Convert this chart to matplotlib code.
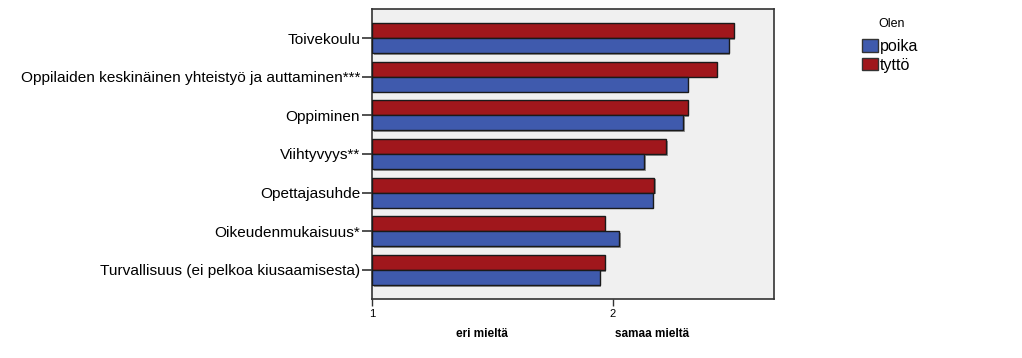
import matplotlib
matplotlib.use("Agg")
import matplotlib.pyplot as plt
import matplotlib.patheffects as pe
from matplotlib.patches import Patch
import numpy as np

plt.rcParams['font.family'] = ['Liberation Sans', 'DejaVu Sans']

categories = ["Toivekoulu",
              "Oppilaiden keskinäinen yhteistyö ja auttaminen***",
              "Oppiminen",
              "Viihtyvyys**",
              "Opettajasuhde",
              "Oikeudenmukaisuus*",
              "Turvallisuus (ei pelkoa kiusaamisesta)"]
tytto = [2.50, 2.43, 2.31, 2.22, 2.17, 1.965, 1.965]
poika = [2.48, 2.31, 2.29, 2.13, 2.165, 2.025, 1.945]
series_names = ["poika", "tyttö"]
legend_title = "Olen"
x_ticks = [1, 2]
bottom_labels = ["eri mieltä", "samaa mieltä"]

blue = "#3F5AAD"
red = "#A0171C"

fig = plt.figure(figsize=(10.22, 3.58), dpi=100)
ax = fig.add_axes([372/1022, 1-299/358, (774-372)/1022, (299-9)/358])
ax.set_facecolor("#F0F0F0")

y = np.arange(len(categories))
h = 0.39
shadow = [pe.SimplePatchShadow(offset=(1.2, -1.2), shadow_rgbFace="#808080", alpha=0.8), pe.Normal()]
ax.barh(y - h/2, np.array(tytto) - 1, left=1, height=h, color=red, edgecolor="#1a1a1a", linewidth=1.0, path_effects=shadow, zorder=3)
ax.barh(y + h/2, np.array(poika) - 1, left=1, height=h, color=blue, edgecolor="#1a1a1a", linewidth=1.0, path_effects=shadow, zorder=3)

ax.set_xlim(1, 1 + 402/241)
ax.set_ylim(6.75, -0.75)
ax.set_yticks(y)
ax.set_yticklabels(categories, fontsize=11.1)
ax.set_xticks(x_ticks)
ax.set_xticklabels([str(t) for t in x_ticks], fontsize=8)
ax.tick_params(axis='y', length=7.5, width=1.2, pad=1, color="#333333")
ax.tick_params(axis='x', length=5, width=1.0, pad=2.5, color="#333333")
for s in ax.spines.values():
    s.set_color("#333333")
    s.set_linewidth(1.2)

fig.text(482/1022, 1-334/358, bottom_labels[0], fontsize=8.5, fontweight='bold', ha='center', va='center')
fig.text(652/1022, 1-334/358, bottom_labels[1], fontsize=8.5, fontweight='bold', ha='center', va='center')

handles = [Patch(facecolor=blue, edgecolor="#333333"), Patch(facecolor=red, edgecolor="#333333")]
leg = fig.legend(handles, series_names, loc='upper left',
                 bbox_to_anchor=(860/1022, 1-37/358), frameon=False, fontsize=11.5,
                 handlelength=0.95, handleheight=0.85, handletextpad=0.12,
                 labelspacing=0.2, borderpad=0.15, borderaxespad=0)
fig.text(891.5/1022, 1-24/358, legend_title, fontsize=9, ha='center', va='center')

fig.savefig("out.png", dpi=100)
